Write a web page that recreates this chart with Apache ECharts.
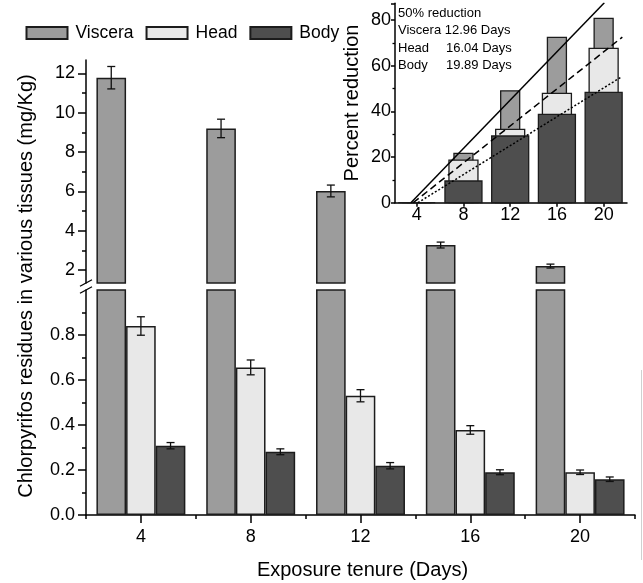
<!DOCTYPE html>
<html><head><meta charset="utf-8">
<script src="https://cdn.jsdelivr.net/npm/echarts@6/dist/echarts.min.js"></script>
<style>html,body{margin:0;padding:0;background:#fff}#c{width:643px;height:583px}</style>
</head><body><div id="c"></div>
<script>
// ---- main chart data ----
const days = ['4', '8', '12', '16', '20'];
const visceraVals = [11.78, 9.2, 6.02, 3.27, 2.2];
const visceraErr  = [0.57, 0.47, 0.3, 0.15, 0.1];
const headVals = [0.84, 0.656, 0.53, 0.378, 0.19];
const headErr  = [0.041, 0.033, 0.027, 0.019, 0.01];
const bodyVals = [0.308, 0.281, 0.219, 0.19, 0.159];
const bodyErr  = [0.014, 0.013, 0.014, 0.011, 0.01];
const upperMajor = [2, 4, 6, 8, 10, 12];
const upperMinor = [3, 5, 7, 9, 11];
const lowerMajor = [0, 0.2, 0.4, 0.6, 0.8];
const lowerMinor = [0.1, 0.3, 0.5, 0.7, 0.9];

// ---- inset data ----
const insetDays = [4, 8, 12, 16, 20];
const visceraRed = [0, 21.6, 49.0, 72.4, 80.7];
const headRed    = [0, 18.6, 32.1, 47.9, 67.6];
const bodyRed    = [0, 9.5, 29.2, 38.7, 48.3];
const visceraFit = [[3.5, 0], [20.06, 87.5]];
const headFit    = [[3.7, 0], [21.6, 72.5]];
const bodyFit    = [[4.1, 0], [21.5, 55]];
const insetLines = ['50% reduction', 'Viscera 12.96 Days', 'Head', 'Body'];
const insetNums = ['', '', '16.04 Days', '19.89 Days'];

const FONT = '"Liberation Sans", Arial, Helvetica, sans-serif';
const C_V = '#9c9c9c', C_H = '#e8e8e8', C_B = '#4e4e4e', EDGE = '#1c1c1c';
const CAT_GAP = 0.19;

// layout
const L = 86, R = 8;
const UP_TOP = 60, UP_H = 223;
const LO_TOP = 290, LO_H = 225;
const IN_L = 395, IN_T = 3.3, IN_W = 232, IN_H = 199.4;

const chart = echarts.init(document.getElementById('c'), null, {renderer: 'canvas'});

function bar(name, data, color, xi, yi) {
  return {type: 'bar', name, data, xAxisIndex: xi, yAxisIndex: yi,
    barGap: '0%', barCategoryGap: (CAT_GAP * 100) + '%',
    itemStyle: {color, borderColor: EDGE, borderWidth: 1.5},
    animation: false, silent: true, clip: true, z: 2};
}
function errSeries(idx, vals, errs, xi, yi) {
  return {type: 'custom', xAxisIndex: xi, yAxisIndex: yi, animation: false, silent: true, z: 6,
    data: vals.map((v, i) => [i, v, errs[i]]),
    renderItem(params, api) {
      const ci = api.value(0), v = api.value(1), e = api.value(2);
      const band = api.size([1, 0])[0];
      const group = band * (1 - CAT_GAP), bw = group / 3;
      const x = api.coord([ci, v])[0] - group / 2 + bw * (idx + 0.5);
      const t = api.coord([ci, v + e])[1], b = api.coord([ci, v - e])[1];
      const h = 4, st = {stroke: '#111', lineWidth: 1.3};
      return {type: 'group', children: [
        {type: 'line', shape: {x1: x, y1: t, x2: x, y2: b}, style: st},
        {type: 'line', shape: {x1: x - h, y1: t, x2: x + h, y2: t}, style: st},
        {type: 'line', shape: {x1: x - h, y1: b, x2: x + h, y2: b}, style: st}
      ]};
    }};
}
function insetBar(vals, color, w, z) {
  return {type: 'custom', xAxisIndex: 4, yAxisIndex: 4, animation: false, silent: true, z,
    data: insetDays.map((d, i) => [d, vals[i]]),
    renderItem(params, api) {
      const p0 = api.coord([api.value(0), 0]), p1 = api.coord([api.value(0), api.value(1)]);
      return {type: 'rect', shape: {x: p0[0] - w / 2, y: p1[1], width: w, height: p0[1] - p1[1]},
        style: {fill: color, stroke: EDGE, lineWidth: 1.3}};
    }};
}
function fitLine(data, type) {
  return {type: 'line', xAxisIndex: 4, yAxisIndex: 4, data, symbol: 'none', animation: false, silent: true,
    clip: true, z: 12, lineStyle: {color: '#000', width: 1.5, type}};
}

const txt = {color: '#000', fontFamily: FONT, fontSize: 18};
const axLine = {show: true, lineStyle: {color: '#000', width: 1.5}};

function yMain(grid, min, max, major, minor, fmt) {
  return [
    {type: 'value', gridIndex: grid, position: 'left', min, max, axisLine: axLine, splitLine: {show: false},
      axisTick: {show: true, length: 8, customValues: major, lineStyle: {color: '#000', width: 1.5}},
      axisLabel: Object.assign({customValues: major, margin: 11, formatter: fmt}, txt)},
    {type: 'value', gridIndex: grid, position: 'left', offset: 0, min, max, axisLine: {show: false}, splitLine: {show: false},
      axisTick: {show: true, length: 4, customValues: minor, lineStyle: {color: '#000', width: 1.5}},
      axisLabel: {show: false}}
  ];
}

const graphics = [
  {type: 'text', x: 26.7, y: 286, rotation: Math.PI / 2,
    style: {text: 'Chlorpyrifos residues in various tissues (mg/Kg)', font: '20px ' + FONT, fill: '#000', align: 'center', verticalAlign: 'middle'}},
  {type: 'text', x: 362.5, y: 570,
    style: {text: 'Exposure tenure (Days)', font: '20px ' + FONT, fill: '#000', align: 'center', verticalAlign: 'middle'}},
  // axis break marks
  {type: 'line', shape: {x1: L - 6, y1: UP_TOP + UP_H + 3.3, x2: L + 6, y2: UP_TOP + UP_H - 3.3}, style: {stroke: '#000', lineWidth: 1.3}},
  {type: 'line', shape: {x1: L - 6, y1: LO_TOP + 3.3, x2: L + 6, y2: LO_TOP - 3.3}, style: {stroke: '#000', lineWidth: 1.3}},
  // faint right edge
  {type: 'line', shape: {x1: 641.5, y1: 370, x2: 641.5, y2: 560}, style: {stroke: '#d0d0d0', lineWidth: 1}}
];
insetLines.forEach((t, i) => {
  graphics.push({type: 'text', x: 398, y: 13.3 + i * 17.4, z: 10,
    style: {text: t, font: '13px ' + FONT, fill: '#000', align: 'left', verticalAlign: 'middle'}});
  if (insetNums[i]) graphics.push({type: 'text', x: 446, y: 13.3 + i * 17.4, z: 10,
    style: {text: insetNums[i], font: '13px ' + FONT, fill: '#000', align: 'left', verticalAlign: 'middle'}});
});

const option = {
  backgroundColor: '#fff',
  animation: false,
  legend: {
    data: ['Viscera', 'Head', 'Body'], left: 25.5, top: 24, padding: 0,
    itemWidth: 41, itemHeight: 12, itemGap: 12, icon: 'rect',
    textStyle: {color: '#000', fontFamily: FONT, fontSize: 17.5, padding: [0, 0, 0, 3]},
    selectedMode: false
  },
  grid: [
    {left: L, right: R, top: UP_TOP, height: UP_H, outerBoundsMode: 'none'},
    {left: L, right: R, top: LO_TOP, height: LO_H, outerBoundsMode: 'none'},
    {left: IN_L, top: IN_T, width: IN_W, height: IN_H, outerBoundsMode: 'none'}
  ],
  xAxis: [
    {type: 'category', gridIndex: 0, data: days, show: false},
    {type: 'category', gridIndex: 1, data: days, position: 'bottom', axisLine: axLine,
      axisTick: {show: true, alignWithLabel: true, length: 8, lineStyle: {color: '#000', width: 1.5}},
      axisLabel: Object.assign({margin: 13}, txt)},
    {type: 'category', gridIndex: 1, data: days, position: 'bottom', offset: 0, axisLine: {show: false},
      axisTick: {show: true, length: 4, lineStyle: {color: '#000', width: 1.5}}, axisLabel: {show: false}},
    {type: 'category', gridIndex: 0, data: days, show: false},
    {type: 'value', gridIndex: 2, position: 'bottom', min: 2.14, max: 22, axisLine: axLine, splitLine: {show: false},
      axisTick: {show: true, length: 4, customValues: insetDays, lineStyle: {color: '#000', width: 1.5}},
      axisLabel: Object.assign({customValues: insetDays, margin: 3}, txt)}
  ],
  yAxis: [].concat(
    yMain(0, 1.34, 12.68, upperMajor, upperMinor, v => String(v)),
    yMain(1, 0, 1.0, lowerMajor, lowerMinor, v => v.toFixed(1)),
    [{type: 'value', gridIndex: 2, position: 'left', min: 0, max: 87.3, interval: 20, axisLine: axLine, splitLine: {show: false},
      axisTick: {show: true, length: 4, lineStyle: {color: '#000', width: 1.5}},
      minorTick: {show: true, splitNumber: 2, length: 2.5, lineStyle: {color: '#000', width: 1.3}},
      axisLabel: Object.assign({margin: 4}, txt),
      name: 'Percent reduction', nameLocation: 'middle', nameGap: 33,
      nameTextStyle: {color: '#000', fontFamily: FONT, fontSize: 20}}]
  ),
  series: [
    bar('Viscera', visceraVals, C_V, 0, 0),
    bar('Head', headVals, C_H, 0, 0),
    bar('Body', bodyVals, C_B, 0, 0),
    bar('Viscera', visceraVals, C_V, 1, 2),
    bar('Head', headVals, C_H, 1, 2),
    bar('Body', bodyVals, C_B, 1, 2),
    errSeries(0, visceraVals, visceraErr, 0, 0),
    errSeries(1, headVals, headErr, 1, 2),
    errSeries(2, bodyVals, bodyErr, 1, 2),
    insetBar(visceraRed, C_V, 19, 8),
    insetBar(headRed, C_H, 29, 9),
    insetBar(bodyRed, C_B, 37, 10),
    fitLine(visceraFit, 'solid'),
    fitLine(headFit, [7, 4]),
    fitLine(bodyFit, [2, 2])
  ],
  graphic: graphics
};
chart.setOption(option);
</script>
</body></html>
